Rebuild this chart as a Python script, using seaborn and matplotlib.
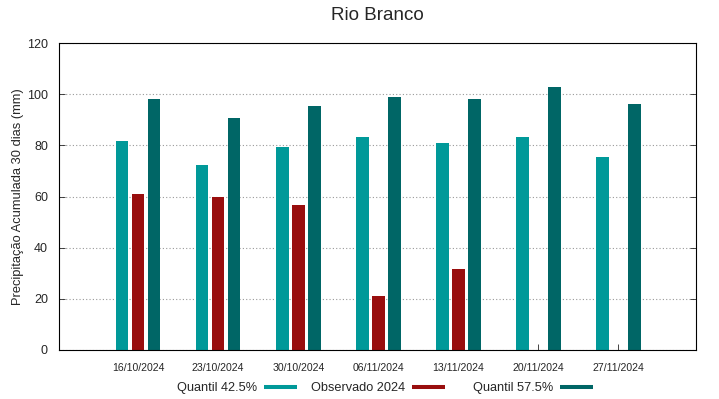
import matplotlib
matplotlib.use("Agg")
import matplotlib.pyplot as plt
import seaborn as sns
import pandas as pd
import numpy as np
from matplotlib.lines import Line2D

dates = ["16/10/2024", "23/10/2024", "30/10/2024", "06/11/2024", "13/11/2024", "20/11/2024", "27/11/2024"]
q425 = [81.6, 72.4, 79.5, 83.4, 80.9, 83.4, 75.3]
obs2024 = [61.0, 59.8, 56.6, 21.0, 31.7, np.nan, np.nan]
q575 = [98.1, 90.8, 95.4, 99.0, 98.1, 102.9, 96.1]
series_names = ["Quantil 42.5%", "Observado 2024", "Quantil 57.5%"]
colors = ["#009999", "#990e0e", "#006666"]

df = pd.DataFrame({
    "date": dates * 3,
    "serie": sum([[s] * len(dates) for s in series_names], []),
    "valor": q425 + obs2024 + q575,
})

sns.set_theme(style="white")
plt.rcParams["font.family"] = ["Liberation Sans", "DejaVu Sans"]

fig = plt.figure(figsize=(7.19, 3.99), dpi=100)
ax = fig.add_axes([59 / 719, 1 - 350 / 399, (696 - 59) / 719, (350 - 43) / 399])

sns.barplot(data=df, x="date", y="valor", hue="serie", hue_order=series_names,
            order=dates, palette=colors, width=0.6, gap=0.22, ax=ax,
            legend=False, saturation=1, linewidth=0)

ax.set_xlim(-0.99, 6.97)
ax.set_ylim(0, 120)
ax.set_yticks(np.arange(0, 121, 20))
ax.yaxis.grid(True, linestyle=(0, (1, 2)), color="#999999", linewidth=0.8)
ax.set_axisbelow(True)
for s in ax.spines.values():
    s.set_color("black")
    s.set_linewidth(0.8)
ax.tick_params(axis="y", labelsize=9, direction="in", length=4, right=True, left=True, width=0.6, pad=8)
ax.tick_params(axis="x", labelsize=7.6, direction="in", length=4, bottom=True, top=False, width=0.6, pad=9.5)
ax.set_xlabel("")
ax.set_ylabel("Precipitação Acumulada 30 dias (mm)", fontsize=9.3, labelpad=2)
fig.text(0.5 * (59 + 696) / 719, 1 - 15 / 399, "Rio Branco", fontsize=13.5, ha="center", va="center")

sample_ends = [297, 445, 593]
for name, c, xe in zip(series_names, colors, sample_ends):
    h = Line2D([0], [0], color=c, linewidth=2.9, solid_capstyle="butt")
    fig.legend([h], [name], loc="center right", bbox_to_anchor=(xe / 719, 1 - 388 / 399),
               frameon=False, markerfirst=False, fontsize=9.2, handlelength=2.58,
               handletextpad=0.55, borderpad=0, borderaxespad=0)

fig.savefig("out.png", dpi=100)
